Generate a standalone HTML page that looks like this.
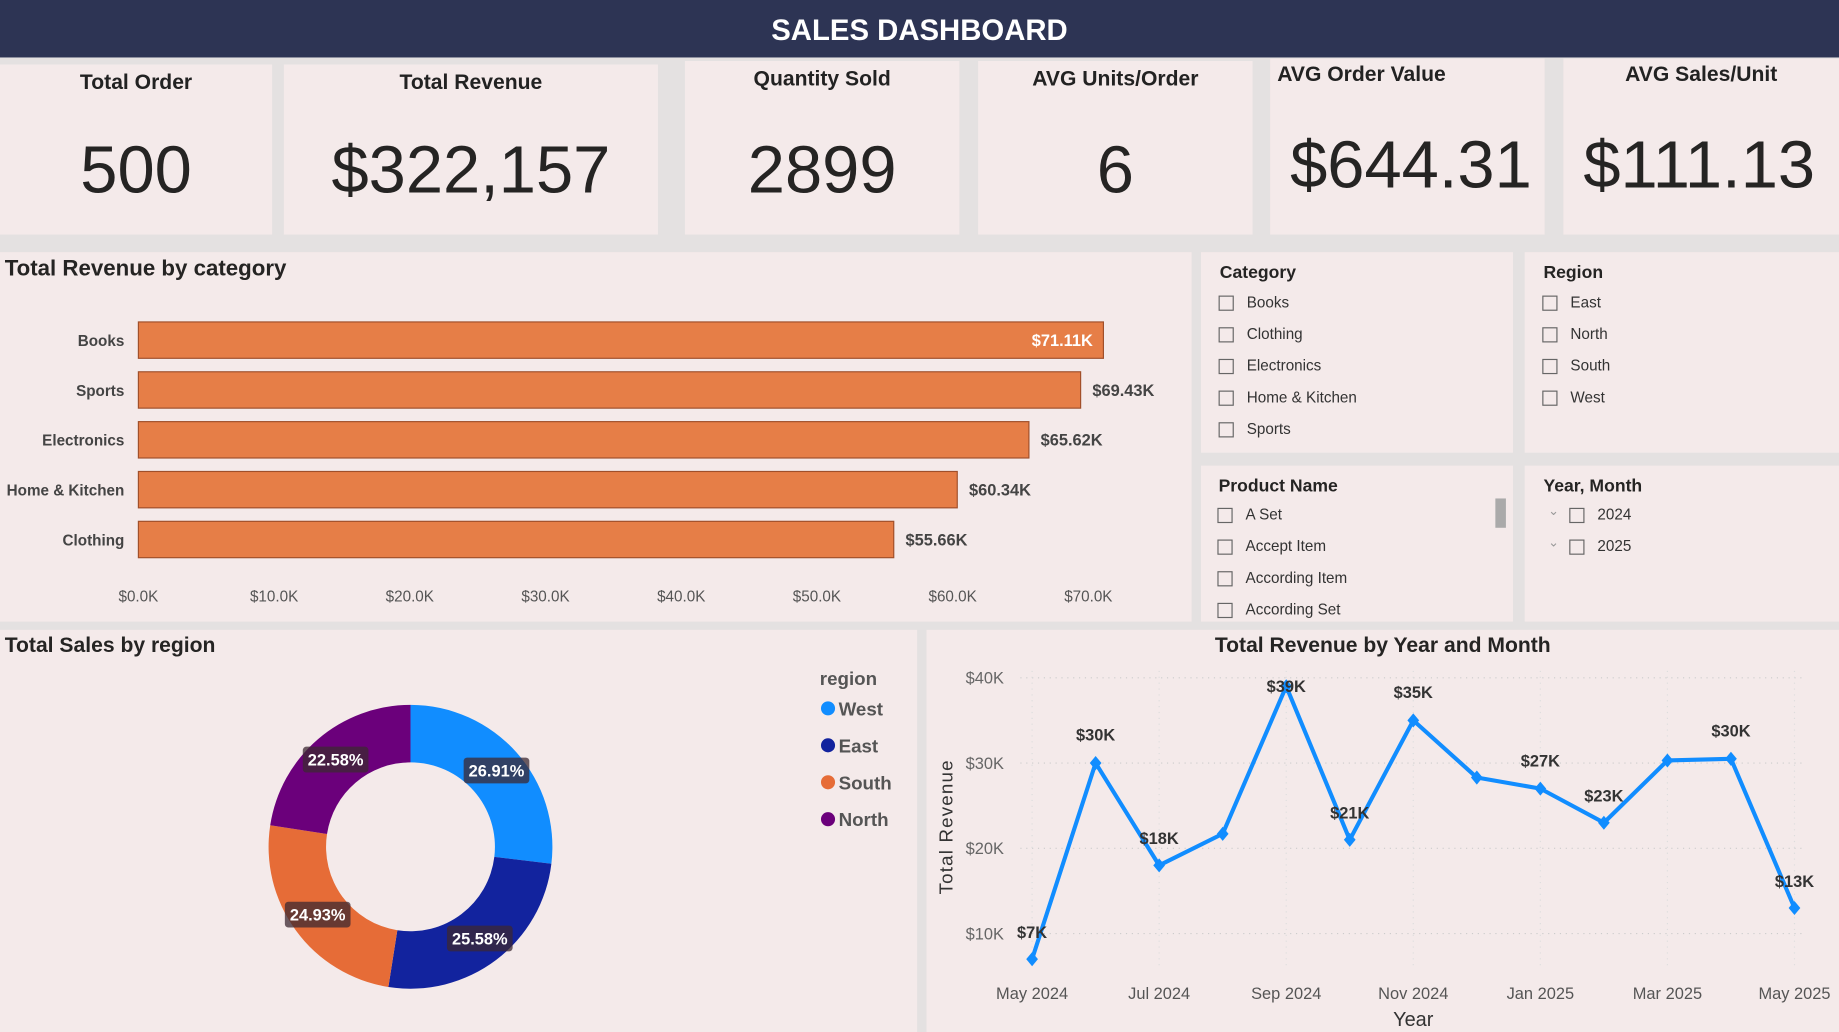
<!DOCTYPE html>
<html><head><meta charset="utf-8">
<style>
html,body{margin:0;padding:0;width:1839px;height:1032px;overflow:hidden;background:#e4e1e1;font-family:"Liberation Sans",sans-serif;}
#wrap{position:absolute;left:0;top:0;width:1568px;height:880px;transform:scale(1.17283);transform-origin:0 0;background:#e4e1e1;}
.card{position:absolute;background:#f4eaea;}
.hdr{position:absolute;left:0;top:0;width:1568px;height:49px;background:#2d3454;color:#fff;font-weight:bold;font-size:25px;text-align:center;line-height:52px;}
.kt{position:absolute;left:0;right:0;text-align:center;font-weight:bold;font-size:18px;color:#222;}
.kv{position:absolute;left:0;right:0;text-align:center;font-size:57px;color:#252423;}
.st{position:absolute;font-weight:bold;font-size:15px;color:#252423;}
.it{position:absolute;font-size:13px;color:#333;}
.it i{position:absolute;left:-24px;top:2px;width:11px;height:11px;border:1px solid #666;}
</style></head><body>
<div id="wrap">
<div class="hdr">SALES DASHBOARD</div>

<div class="card" style="left:0;top:55px;width:232px;height:145px"><div class="kt" style="top:5px">Total Order</div><div class="kv" style="top:57px">500</div></div>
<div class="card" style="left:242px;top:55px;width:319px;height:145px"><div class="kt" style="top:5px">Total Revenue</div><div class="kv" style="top:57px">$322,157</div></div>
<div class="card" style="left:584px;top:52px;width:234px;height:148px"><div class="kt" style="top:5px">Quantity Sold</div><div class="kv" style="top:60px">2899</div></div>
<div class="card" style="left:834px;top:52px;width:234px;height:148px"><div class="kt" style="top:5px">AVG Units/Order</div><div class="kv" style="top:60px">6</div></div>
<div class="card" style="left:1083px;top:50px;width:234px;height:150px"><div class="kt" style="top:3px;text-align:left;left:6px">AVG Order Value</div><div class="kv" style="top:58px;text-align:left;left:17px">$644.31</div></div>
<div class="card" style="left:1333px;top:50px;width:235px;height:150px"><div class="kt" style="top:3px">AVG Sales/Unit</div><div class="kv" style="top:58px;text-align:left;left:17px">$111.13</div></div>

<div class="card" style="left:0;top:215px;width:1016px;height:315px">
<svg id="bar" width="1016" height="315" style="position:absolute;left:0;top:0"></svg></div>

<div class="card" style="left:1024px;top:215px;width:266px;height:171px">
<div class="st" style="left:16px;top:9px">Category</div>
<div class="it" style="left:39px;top:35px"><i></i>Books</div>
<div class="it" style="left:39px;top:62px"><i></i>Clothing</div>
<div class="it" style="left:39px;top:89px"><i></i>Electronics</div>
<div class="it" style="left:39px;top:116px"><i></i>Home &amp; Kitchen</div>
<div class="it" style="left:39px;top:143px"><i></i>Sports</div>
</div>
<div class="card" style="left:1300px;top:215px;width:268px;height:171px">
<div class="st" style="left:16px;top:9px">Region</div>
<div class="it" style="left:39px;top:35px"><i></i>East</div>
<div class="it" style="left:39px;top:62px"><i></i>North</div>
<div class="it" style="left:39px;top:89px"><i></i>South</div>
<div class="it" style="left:39px;top:116px"><i></i>West</div>
</div>
<div class="card" style="left:1024px;top:397px;width:266px;height:133px;overflow:hidden">
<div class="st" style="left:15px;top:9px">Product Name</div>
<div style="position:absolute;left:251px;top:28px;width:9px;height:25px;background:#aaa"></div>
<div class="it" style="left:38px;top:34px"><i></i>A Set</div>
<div class="it" style="left:38px;top:61px"><i></i>Accept Item</div>
<div class="it" style="left:38px;top:88px"><i></i>According Item</div>
<div class="it" style="left:38px;top:115px"><i></i>According Set</div>
</div>
<div class="card" style="left:1300px;top:397px;width:268px;height:133px">
<div class="st" style="left:16px;top:9px">Year, Month</div>
<div class="it" style="left:62px;top:34px"><span style="position:absolute;left:-42px;top:-2px;color:#999;font-size:11px">⌄</span><i></i>2024</div>
<div class="it" style="left:62px;top:61px"><span style="position:absolute;left:-42px;top:-2px;color:#999;font-size:11px">⌄</span><i></i>2025</div>
</div>

<div class="card" style="left:0;top:537px;width:782px;height:343px">
<svg id="donut" width="782" height="343" style="position:absolute;left:0;top:0"></svg></div>
<div class="card" style="left:790px;top:537px;width:778px;height:343px">
<svg id="line" width="778" height="343" style="position:absolute;left:0;top:0"></svg></div>
</div>

<script>
const NS="http://www.w3.org/2000/svg";
function mk(p,t,a,txt){const e=document.createElementNS(NS,t);for(const k in a)e.setAttribute(k,a[k]);if(txt!==undefined)e.textContent=txt;p.appendChild(e);return e;}

// Bar chart data
const barCats=["Books","Sports","Electronics","Home & Kitchen","Clothing"];
const barVals=[71.11,69.43,65.62,60.34,55.66];
const barTicks=[0,10,20,30,40,50,60,70];

// Donut data
const regions=["West","East","South","North"];
const regionPct=[26.91,25.58,24.93,22.58];
const regionColors=["#118dff","#12239e","#e66c37","#6b007b"];

// Line data
const months=["May 2024","Jun 2024","Jul 2024","Aug 2024","Sep 2024","Oct 2024","Nov 2024","Dec 2024","Jan 2025","Feb 2025","Mar 2025","Apr 2025","May 2025"];
const revenue=[7,30,18,21.7,39,21,35,28.3,27,23,30.3,30.5,13];
const revLabels=["$7K","$30K","$18K","","$39K","$21K","$35K","","$27K","$23K","","$30K","$13K"];
const yTicks=[10,20,30,40];

// ---- bar
(function(){
const s=document.getElementById("bar");
mk(s,"text",{x:4,y:20,"font-size":19,"font-weight":"bold",fill:"#252423"},"Total Revenue by category");
const x=v=>118+v*11.571, y=i=>75+i*42.5;
barTicks.forEach(t=>{const e=mk(s,"text",{x:x(t),y:298,"font-size":13,fill:"#555","text-anchor":"middle"},"$"+t.toFixed(1)+"K");

});
barCats.forEach((c,i)=>{
const l=mk(s,"text",{x:106,y:y(i)+5,"font-size":13,"font-weight":"bold",fill:"#444","text-anchor":"end"},c);


const r=mk(s,"rect",{x:x(0),y:y(i)-15.5,width:x(barVals[i])-x(0),height:31,fill:"#e67e47",stroke:"#a04f2a","stroke-width":1});


const inside=i===0;
const v=mk(s,"text",{x:inside?x(barVals[i])-9:x(barVals[i])+10,y:y(i)+5,"font-size":14,"font-weight":"bold",fill:inside?"#fff":"#444","text-anchor":inside?"end":"start"},"$"+barVals[i].toFixed(2)+"K");


});
})();

// ---- donut
(function(){
const s=document.getElementById("donut");
mk(s,"text",{x:4,y:19,"font-size":18,"font-weight":"bold",fill:"#252423"},"Total Sales by region");
const cx=350,cy=185,R=121,r=72;let a=-Math.PI/2;const tot=regionPct.reduce((p,c)=>p+c,0);
const P=(rad,ang)=>[cx+rad*Math.cos(ang),cy+rad*Math.sin(ang)];
const labs=[];
regionPct.forEach((p,i)=>{
const a2=a+p/tot*2*Math.PI,lg=(a2-a)>Math.PI?1:0;
const [x1,y1]=P(R,a),[x2,y2]=P(R,a2),[x3,y3]=P(r,a2),[x4,y4]=P(r,a);
const e=mk(s,"path",{d:`M${x1},${y1}A${R},${R} 0 ${lg} 1 ${x2},${y2}L${x3},${y3}A${r},${r} 0 ${lg} 0 ${x4},${y4}Z`,fill:regionColors[i]});


labs.push([(a+a2)/2,p]);
a=a2;});
labs.forEach(([m,p])=>{const [lx,ly]=P(98,m);
mk(s,"rect",{x:lx-28,y:ly-11,width:56,height:22,rx:3,fill:"rgba(60,40,50,0.75)"});
const t=mk(s,"text",{x:lx,y:ly+5,"font-size":14,"font-weight":"bold",fill:"#fff","text-anchor":"middle"},p.toFixed(2)+"%");

});
mk(s,"text",{x:699,y:47,"font-size":16,"font-weight":"bold",fill:"#555"},"region");
regions.forEach((g,i)=>{
const yy=67+i*31.5;
mk(s,"circle",{cx:706,cy:yy,r:6,fill:regionColors[i]});
const t=mk(s,"text",{x:715,y:yy+6,"font-size":16,"font-weight":"bold",fill:"#555"},g);

});
})();

// ---- line
(function(){
const s=document.getElementById("line");
mk(s,"text",{x:389,y:19,"font-size":18,"font-weight":"bold",fill:"#252423","text-anchor":"middle"},"Total Revenue by Year and Month");
const x=i=>90+i*54.17, y=v=>259-(v-10)*7.27;
yTicks.forEach(t=>{mk(s,"line",{x1:80,x2:750,y1:y(t),y2:y(t),stroke:"#ccc","stroke-dasharray":"1 4"});
const e=mk(s,"text",{x:66,y:y(t)+5,"font-size":14,fill:"#666","text-anchor":"end"},"$"+t+"K");

});
months.forEach((m,i)=>{if(i%2===0){mk(s,"line",{x1:x(i),x2:x(i),y1:35,y2:290,stroke:"#ddd","stroke-dasharray":"1 4"});
const e=mk(s,"text",{x:x(i),y:315,"font-size":14,fill:"#555","text-anchor":"middle"},m);

}});
const yl=mk(s,"text",{x:0,y:0,"font-size":16,fill:"#333","text-anchor":"middle",transform:"translate(22,168) rotate(-90)","letter-spacing":"1"},"Total Revenue");


const xl=mk(s,"text",{x:415,y:338,"font-size":17,fill:"#333","text-anchor":"middle"},"Year");


const pl=mk(s,"polyline",{points:revenue.map((v,i)=>x(i)+","+y(v)).join(" "),fill:"none",stroke:"#118dff","stroke-width":3.5,"stroke-linejoin":"round"});


revenue.forEach((v,i)=>{const px=x(i),py=y(v);
const d=mk(s,"path",{d:`M${px},${py-6}L${px+5},${py}L${px},${py+6}L${px-5},${py}Z`,fill:"#118dff"});


if(revLabels[i]){const t=mk(s,"text",{x:px,y:py-19,"font-size":14,"font-weight":"bold",fill:"#333","text-anchor":"middle"},revLabels[i]);
if(v===39)t.setAttribute('y',py+5);
if(v===21||v===18||v===7||v===13||v===23)t.setAttribute('y',py-18);

}});
})();
</script>
</body></html>
